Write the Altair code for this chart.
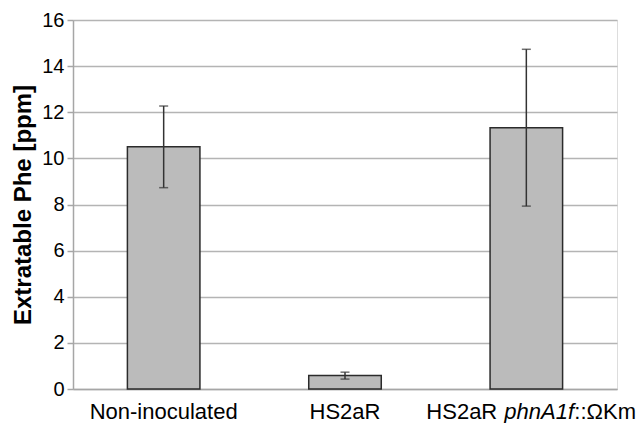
import altair as alt
import pandas as pd

categories = ["Non-inoculated", "HS2aR", "HS2aR phnA1f::ΩKm"]
values = [10.5, 0.58, 11.33]
errors = [1.77, 0.15, 3.4]
y_ticks = [0, 2, 4, 6, 8, 10, 12, 14, 16]

# pieces of the third label (mixed roman / italic)
label_parts = ["HS2aR", "phnA1f", "::ΩKm"]
label_styles = ["normal", "italic", "normal"]
label_dx = [-100, -22, 48]

df = pd.DataFrame({
    "cat": categories,
    "val": values,
    "lo": [v - e for v, e in zip(values, errors)],
    "hi": [v + e for v, e in zip(values, errors)],
})

FONT = "Liberation Sans"

x_enc = alt.X(
    "cat:N",
    sort=categories,
    scale=alt.Scale(paddingInner=0.6, paddingOuter=0.3),
    axis=alt.Axis(
        title=None, labelAngle=0, ticks=False, labelFontSize=22,
        labelFont=FONT, labelColor="#000000", labelPadding=12,
        domainColor="#a6a6a6", domainWidth=1.5, grid=False,
        labelExpr="datum.value == 'HS2aR phnA1f::ΩKm' ? '' : datum.value",
    ),
)

y_scale = alt.Scale(domain=[0, 16], nice=False)

bars = alt.Chart(df).mark_bar(
    color="#bbbbbb", stroke="#2b2b2b", strokeWidth=1.5
).encode(
    x=x_enc,
    y=alt.Y(
        "val:Q", scale=y_scale,
        axis=alt.Axis(
            title="Extratable Phe [ppm]", values=y_ticks, titleFontSize=24,
            titleFont=FONT, titleFontWeight="bold", titleColor="#000000",
            labelFontSize=20, labelFont=FONT, labelColor="#000000",
            tickSize=6, tickColor="#a6a6a6", tickWidth=1.5,
            domainColor="#a6a6a6", domainWidth=1.5, labelPadding=3,
            titlePadding=6, gridColor="#b4b4b4", gridWidth=1.5,
        ),
    ),
)

err = alt.Chart(df).mark_rule(color="#333333", strokeWidth=1.5).encode(
    x=alt.X("cat:N", sort=categories),
    y=alt.Y("lo:Q", scale=y_scale),
    y2="hi:Q",
)

cap_hi = alt.Chart(df).mark_tick(
    color="#333333", thickness=1.5, size=9, orient="horizontal"
).encode(x=alt.X("cat:N", sort=categories), y=alt.Y("hi:Q", scale=y_scale))

cap_lo = alt.Chart(df).mark_tick(
    color="#333333", thickness=1.5, size=9, orient="horizontal"
).encode(x=alt.X("cat:N", sort=categories), y=alt.Y("lo:Q", scale=y_scale))

label_layers = []
for part, style, dx in zip(label_parts, label_styles, label_dx):
    lab = pd.DataFrame({"cat": [categories[2]], "t": [part]})
    label_layers.append(
        alt.Chart(lab).mark_text(
            align="left", baseline="alphabetic", fontSize=22, font=FONT,
            fontStyle=style, color="#000000", dx=dx,
        ).encode(
            x=alt.X("cat:N", sort=categories),
            y=alt.value(399),
            text="t:N",
        )
    )

chart = alt.layer(bars, err, cap_hi, cap_lo, *label_layers).properties(
    width=544, height=369,
    autosize=alt.AutoSizeParams(type="none"),
    padding={"left": 73, "top": 20, "right": 27, "bottom": 34},
).configure_view(stroke=None).configure(background="white")

chart.save("out.html", embed_options={"renderer": "svg", "actions": False})
